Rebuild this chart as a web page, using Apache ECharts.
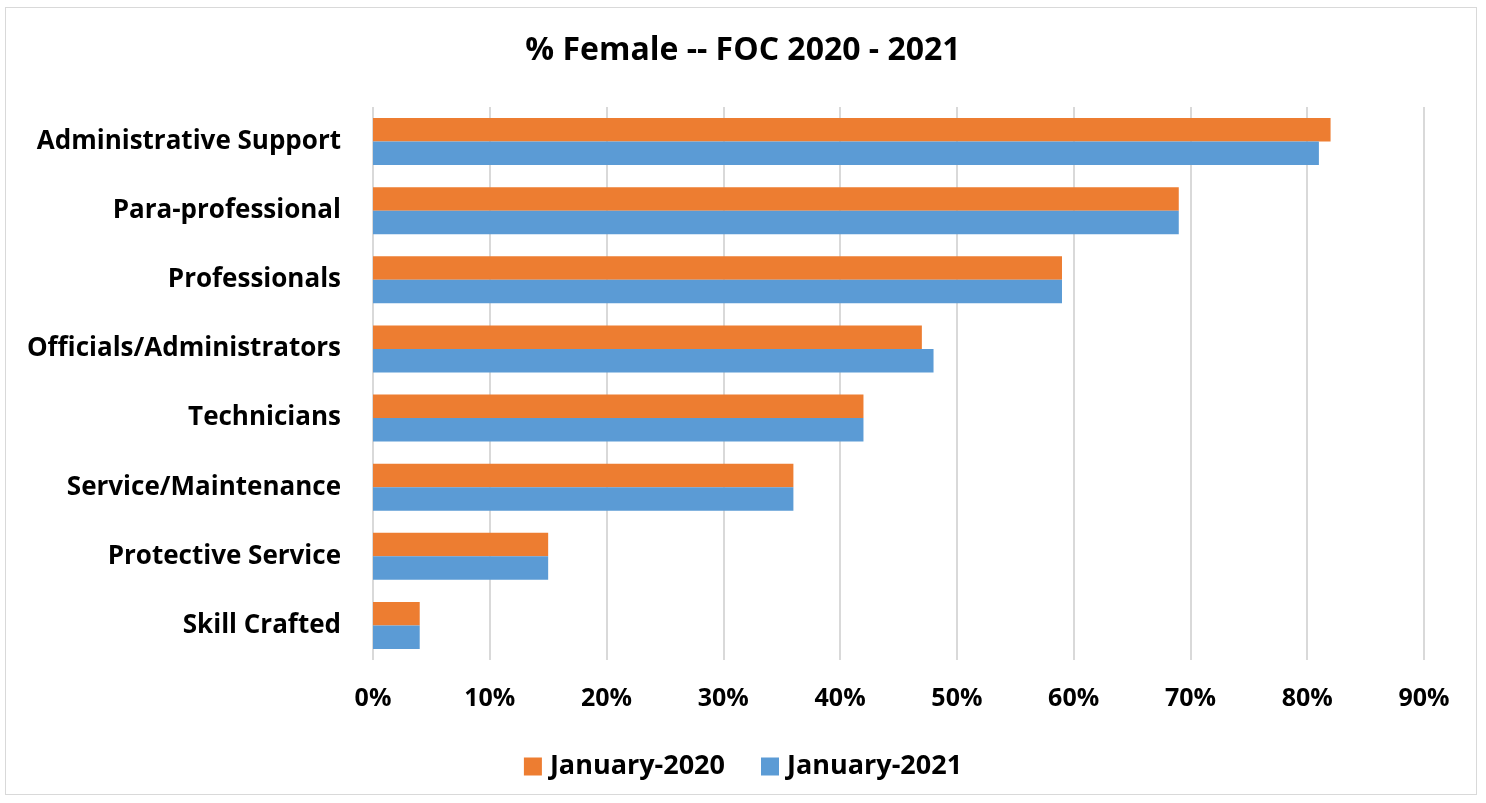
<!DOCTYPE html>
<html><head><meta charset="utf-8">
<script src="https://cdn.jsdelivr.net/npm/echarts@6/dist/echarts.min.js"></script>
<style>
html,body{margin:0;padding:0;background:#fff;}
#frame{position:absolute;left:5px;top:7px;width:1472px;height:788px;border:1.5px solid #d9d9d9;box-sizing:border-box;}
#chart{position:absolute;left:0;top:0;width:1486px;height:803px;}
</style></head>
<body>
<div id="frame"></div>
<div id="chart"></div>
<script>
const categories = ["Administrative Support","Para-professional","Professionals","Officials/Administrators","Technicians","Service/Maintenance","Protective Service","Skill Crafted"];
const jan2020 = [82,69,59,47,42,36,15,4];
const jan2021 = [81,69,59,48,42,36,15,4];
const seriesNames = ["January-2020","January-2021"];
const FONT = "Open Sans";
const chart = echarts.init(document.getElementById('chart'));
chart.setOption({
  animation:false,
  title:{text:"% Female -- FOC 2020 - 2021",left:"center",top:30,textStyle:{fontFamily:FONT,fontSize:32,fontWeight:"bold",color:"#000"}},
  legend:{bottom:18,left:"center",itemWidth:18,itemHeight:18,itemGap:36,icon:"rect",
    textStyle:{fontFamily:FONT,fontSize:27,fontWeight:"bold",color:"#000",padding:[0,0,0,3]},data:seriesNames},
  grid:{left:373,right:62,top:107,bottom:143,containLabel:false},
  xAxis:{type:"value",min:0,max:90,interval:10,
    axisLabel:{formatter:"{value}%",margin:26,fontFamily:FONT,fontSize:25,fontWeight:"bold",color:"#000"},
    splitLine:{lineStyle:{color:"#d9d9d9",width:2}},axisLine:{show:false},axisTick:{show:false}},
  yAxis:{type:"category",data:categories,inverse:true,
    axisLabel:{margin:32,fontFamily:FONT,fontSize:26,fontWeight:"bold",color:"#000"},
    axisLine:{show:false},axisTick:{show:false}},
  series:[
    {name:seriesNames[0],type:"bar",data:jan2020,itemStyle:{color:"#ED7D31"},barGap:"0%",barCategoryGap:"32%"},
    {name:seriesNames[1],type:"bar",data:jan2021,itemStyle:{color:"#5B9BD5"},barGap:"0%",barCategoryGap:"32%"}
  ]
});
</script>
</body></html>
